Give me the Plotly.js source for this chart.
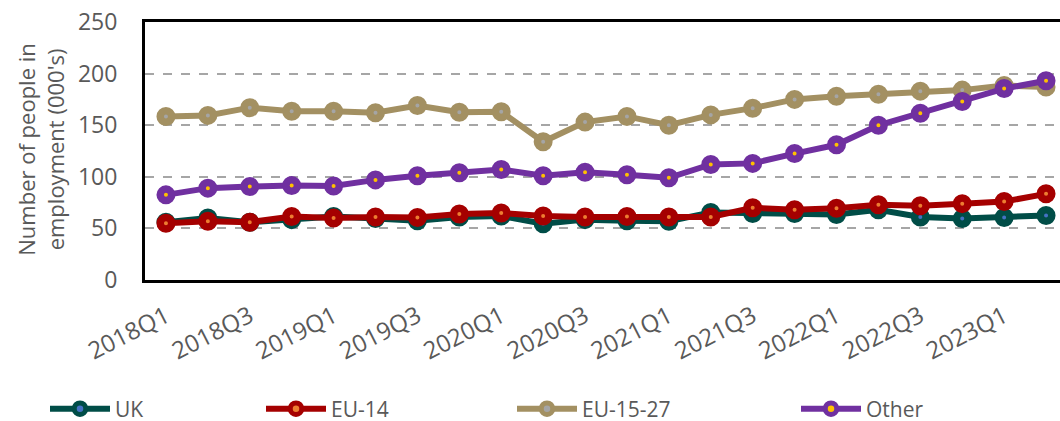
<!DOCTYPE html>
<html>
<head>
<meta charset="utf-8">
<script src="https://cdn.plot.ly/plotly-3.0.1.min.js"></script>
<style>
html,body{margin:0;padding:0;overflow:hidden;background:#fff;width:1060px;height:421px;}
#chart{width:1080px;height:421px;}
</style>
</head>
<body>
<div id="chart"></div>
<script>
const quarters = ["2018Q1","2018Q2","2018Q3","2018Q4","2019Q1","2019Q2","2019Q3","2019Q4","2020Q1","2020Q2","2020Q3","2020Q4","2021Q1","2021Q2","2021Q3","2021Q4","2022Q1","2022Q2","2022Q3","2022Q4","2023Q1","2023Q2"];
const tickLabels = ["2018Q1","2018Q3","2019Q1","2019Q3","2020Q1","2020Q3","2021Q1","2021Q3","2022Q1","2022Q3","2023Q1"];
const uk      = [56,60,56,58.5,61.5,59.5,57.5,61,62,54.5,58.5,57.5,57,65.5,64.5,64.5,63.5,68,61,59.5,60.5,62.5];
const eu14    = [55,57,56,61.5,60,61,60.5,64,65,62,61,61.5,61,61,70,68,69.5,73,72,74,76,83.5];
const eu1527  = [158.5,159.5,167,163.5,163.5,162,169,162.5,163,134,153,158.5,150,160,166.5,175,178,180,183,184,188.5,187];
const other   = [82.5,89,90.5,91.5,91,97,101,104,107,101,104.5,102,99,112,113,122.5,131,150,161.5,173,185.5,193];
const seriesNames = ["UK","EU-14","EU-15-27","Other"];
const lineColors  = ["#004D47","#A50000","#A39062","#7030A0"];
const dotColors   = ["#4472C4","#ED7D31","#A5A5A5","#FFC000"];
const allSeries = [uk, eu14, eu1527, other];

const FONT = "Open Sans, Noto Sans, sans-serif";
const GREY = "#595959";
const W = 1080, H = 421;
const legendKeys = ["legend","legend2","legend3","legend4"];
const legendPx = [45, 261, 512, 796];
const plotL = 145, plotW = 922, plotT = 22, plotH = 258;

const traces = allSeries.map((vals, i) => ({
  type: "scatter", mode: "lines+markers",
  x: quarters, y: vals, name: seriesNames[i],
  line: {color: lineColors[i], width: 6},
  marker: {size: 11.5, color: dotColors[i], line: {color: lineColors[i], width: 7.5}},
  legend: legendKeys[i],
  hoverinfo: "skip"
}));

const layout = {
  width: W, height: H,
  margin: {l: plotL, r: W - plotL - plotW, t: plotT, b: H - plotT - plotH, autoexpand: false},
  paper_bgcolor: "#fff", plot_bgcolor: "#fff",
  font: {family: FONT, color: GREY},
  showlegend: true,
  xaxis: {
    type: "category", range: [-0.5, 21.5],
    tickmode: "array", tickvals: tickLabels, ticktext: tickLabels,
    tickangle: -27, tickfont: {size: 24, color: GREY, family: FONT},
    ticks: "", ticklabelstandoff: 10,
    showgrid: false, zeroline: false,
    showline: true, linecolor: "#000", linewidth: 3, mirror: true,
    fixedrange: true, automargin: false
  },
  yaxis: {
    range: [0, 250], dtick: 50, tick0: 0,
    tickfont: {size: 23, color: GREY, family: FONT},
    ticks: "outside", ticklen: 20, tickcolor: "rgba(0,0,0,0)",
    showgrid: true, gridcolor: "#A6A6A6", gridwidth: 2, griddash: "dash",
    zeroline: false,
    showline: true, linecolor: "#000", linewidth: 3, mirror: true,
    fixedrange: true, automargin: false
  },
  annotations: [
    {text: "Number of people in<br>employment (000's)", textangle: -90,
     xref: "paper", yref: "paper", x: (41 - plotL) / plotW, y: (280.3 - 150) / plotH,
     xanchor: "center", yanchor: "middle", showarrow: false,
     font: {size: 22, color: GREY, family: FONT}},
    {text: "g", xref: "paper", yref: "paper", x: (122 - plotL) / plotW, y: 1 + (plotT - 3) / plotH,
     xanchor: "center", yanchor: "bottom", showarrow: false,
     font: {size: 24, color: "#A39062", family: FONT}}
  ]
};
legendKeys.forEach((k, i) => {
  layout[k] = {
    xref: "container", yref: "container",
    x: legendPx[i] / W, y: 1 - 409 / H,
    xanchor: "left", yanchor: "middle", orientation: "h",
    bgcolor: "rgba(0,0,0,0)", itemwidth: 60,
    font: {size: 21, color: GREY, family: FONT}
  };
});

Plotly.newPlot("chart", traces, layout, {displayModeBar: false, staticPlot: true});
</script>
</body>
</html>
